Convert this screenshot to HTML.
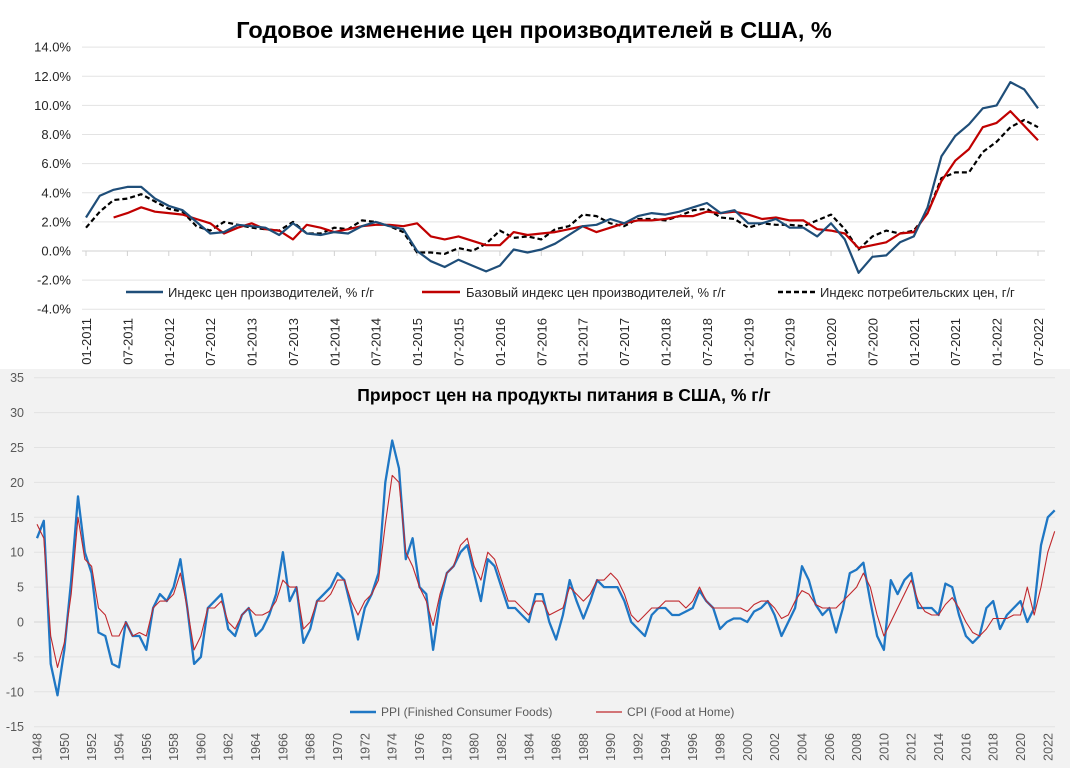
<!DOCTYPE html>
<html><head><meta charset="utf-8">
<style>
html,body{margin:0;padding:0;background:#fff;}
svg{display:block;font-family:"Liberation Sans","DejaVu Sans",sans-serif;}
</style></head>
<body>
<svg id="c" width="1074" height="768" viewBox="0 0 1074 768">
<rect x="0" y="0" width="1074" height="369" fill="#ffffff"/>
<rect x="0" y="369" width="1070" height="399" fill="#f2f2f2"/>
<text x="534" y="38" text-anchor="middle" font-size="23.5" font-weight="bold" fill="#000">Годовое изменение цен производителей в США, %</text>
<text x="564" y="401" text-anchor="middle" font-size="17.5" font-weight="bold" fill="#000">Прирост цен на продукты питания в США, % г/г</text>
<g id="topG"></g>
<g id="botG"></g>
<g>
<line x1="126" y1="292" x2="163" y2="292" stroke="#1f4e79" stroke-width="2.5"/>
<text x="168" y="297" font-size="13" fill="#262626">Индекс цен производителей, % г/г</text>
<line x1="422" y1="292" x2="460" y2="292" stroke="#c00000" stroke-width="2.5"/>
<text x="466" y="297" font-size="13" fill="#262626">Базовый индекс цен производителей, % г/г</text>
<line x1="778" y1="292" x2="815" y2="292" stroke="#000" stroke-width="2.5" stroke-dasharray="5,3"/>
<text x="820" y="297" font-size="13" fill="#262626">Индекс потребительских цен, г/г</text>
</g>
<g>
<line x1="350" y1="712" x2="376" y2="712" stroke="#1f77c4" stroke-width="2.5"/>
<text x="381" y="716" font-size="12" fill="#595959">PPI (Finished Consumer Foods)</text>
<line x1="596" y1="712" x2="622" y2="712" stroke="#c0282d" stroke-width="1.2"/>
<text x="627" y="716" font-size="12" fill="#595959">CPI (Food at Home)</text>
</g>
</svg>
<script>
// ---------- top chart data (bimonthly, Jan 2011 .. Jul 2022) ----------
const topYTicks = [14,12,10,8,6,4,2,0,-2,-4];
const topXLabels = ["01-2011","07-2011","01-2012","07-2012","01-2013","07-2013","01-2014","07-2014","01-2015","07-2015","01-2016","07-2016","01-2017","07-2017","01-2018","07-2018","01-2019","07-2019","01-2020","07-2020","01-2021","07-2021","01-2022","07-2022"];
const ppiValues = [2.3,3.8,4.2,4.4,4.4,3.6, 3.1,2.8,2.0,1.2,1.3,1.8, 1.7,1.6,1.1,1.9,1.2,1.1, 1.3,1.2,1.7,2.0,1.7,1.5, 0.0,-0.7,-1.1,-0.6,-1.0,-1.4, -1.0,0.1,-0.1,0.1,0.5,1.1, 1.7,1.8,2.2,1.9,2.4,2.6, 2.5,2.7,3.0,3.3,2.6,2.8, 1.9,1.9,2.2,1.6,1.6,1.0, 1.9,0.8,-1.5,-0.4,-0.3,0.6, 1.0,3.0,6.5,7.9,8.7,9.8, 10.0,11.6,11.1,9.8];
const corePpiValues = [null,null,2.3,2.6,3.0,2.7, 2.6,2.5,2.2,1.9,1.2,1.6, 1.9,1.5,1.4,0.8,1.8,1.6, 1.3,1.5,1.7,1.8,1.8,1.7, 1.9,1.0,0.8,1.0,0.7,0.4, 0.4,1.3,1.1,1.2,1.3,1.5, 1.7,1.3,1.6,1.9,2.1,2.1, 2.2,2.4,2.4,2.7,2.6,2.7, 2.5,2.2,2.3,2.1,2.1,1.5, 1.4,1.2,0.2,0.4,0.6,1.2, 1.3,2.6,4.8,6.2,7.0,8.5, 8.8,9.6,8.6,7.6];
const cpiValues = [1.6,2.7,3.5,3.6,3.9,3.4, 2.9,2.7,1.7,1.4,2.0,1.8, 1.6,1.5,1.4,2.0,1.2,1.2, 1.6,1.5,2.1,2.0,1.7,1.3, -0.1,-0.1,-0.2,0.2,0.0,0.5, 1.4,0.9,1.0,0.8,1.5,1.7, 2.5,2.4,1.9,1.7,2.2,2.2, 2.1,2.4,2.8,2.9,2.3,2.2, 1.6,1.9,1.8,1.8,1.7,2.1, 2.5,1.5,0.1,1.0,1.4,1.2, 1.4,2.6,5.0,5.4,5.4,6.8, 7.5,8.5,9.0,8.5];

// ---------- bottom chart data (half-yearly, 1948.0 .. 2022.5) ----------
const botYTicks = [35,30,25,20,15,10,5,0,-5,-10,-15];
const botXLabels = ["1948","1950","1952","1954","1956","1958","1960","1962","1964","1966","1968","1970","1972","1974","1976","1978","1980","1982","1984","1986","1988","1990","1992","1994","1996","1998","2000","2002","2004","2006","2008","2010","2012","2014","2016","2018","2020","2022"];
const foodPpiValues = [12,14.5,-6,-10.5,-4,6,18,10,7,-1.5,-2,-6,-6.5,0,-2,-2,-4,2,4,3,5,9,2,-6,-5,2,3,4,-1,-2,1,2,-2,-1,1,4,10,3,5,-3,-1,3,4,5,7,6,2,-2.5,2,4,7,20,26,22,9,12,5,4,-4,3,7,8,10,11,7,3,9,8,5,2,2,1,0,4,4,0,-2.5,1,6,3,0.5,3,6,5,5,5,3,0,-1,-2,1,2,2,1,1,1.5,2,4.5,3,2,-1,0,0.5,0.5,0,1.5,2,3,1,-2,0,2,8,6,2.5,1,2,-1.5,2,7,7.5,8.5,3,-2,-4,6,4,6,7,2,2,2,1,5.5,5,1,-2,-3,-2,2,3,-1,1,2,3,0,2,11,15,16];
const foodCpiValues = [14,12,-2,-6.5,-3,4,15,9,8,2,1,-2,-2,0,-2,-1.5,-2,2,3,3,4,7,2,-4,-2,2,2,3,0,-1,1,2,1,1,1.5,3,6,5,5,-1,0,3,3,4,6,6,3,1,3,4,6,14,21,20,10,8,5,3,-0.5,4,7,8,11,12,8,6,10,9,6,3,3,2,1,3,3,1,1.5,2,5,4,3,4,6,6,7,6,4,1,0,1,2,2,3,3,3,2,3,5,3,2,2,2,2,2,1.5,2.5,3,3,2,0.5,1,3,4.5,4,2.5,2,2,2,3,4,5,7,5,1,-2,0,2,4,6,3,1.5,1,1,2.5,3.5,2,0,-1.5,-2,-1,0.5,0.5,0.5,1,1,5,1,5,10,13];

const NS="http://www.w3.org/2000/svg";
function mk(tag,attrs,parent){const e=document.createElementNS(NS,tag);for(const k in attrs)e.setAttribute(k,attrs[k]);parent.appendChild(e);return e;}

// ---- top axes ----
const topG=document.getElementById('topG');
const tX0=86, tX1=1038, tMonths=138;
const tx=m=>tX0+(tX1-tX0)*m/tMonths;
const ty=v=>251-v*14.56;
topYTicks.forEach(v=>{
  const g=mk('line',{x1:82,x2:1045,y1:ty(v),y2:ty(v),stroke:v===0?'#d0d0d0':'#e3e3e3','stroke-width':1},topG);
  
  
  const t=mk('text',{x:71,y:ty(v)+4.5,'text-anchor':'end','font-size':13,fill:'#262626'},topG);
  t.textContent=v.toFixed(1)+'%';
  
  
});
topXLabels.forEach((lab,i)=>{
  const x=tx(i*6);
  const tk=mk('line',{x1:x,x2:x,y1:251,y2:256,stroke:'#d0d0d0'},topG);
  
  
  const t=mk('text',{x:0,y:0,'text-anchor':'end','font-size':13,fill:'#262626',transform:`translate(${x+5},318) rotate(-90)`},topG);
  t.textContent=lab;
  
  
});
function topLine(vals,stroke,dash,name){
  let d='';let pen=false;
  vals.forEach((v,i)=>{if(v===null){pen=false;return;}d+=(pen?'L':'M')+tx(i*2).toFixed(1)+','+ty(v).toFixed(1);pen=true;});
  const p=mk('path',{d:d,fill:'none',stroke:stroke,'stroke-width':2.2,'stroke-linejoin':'round'},topG);
  if(dash)p.setAttribute('stroke-dasharray',dash);
  
  
}
topLine(cpiValues,'#000','5,3','cpi-line');
topLine(corePpiValues,'#c00000','','core-ppi-line');
topLine(ppiValues,'#1f4e79','','ppi-line');

// ---- bottom axes ----
const botG=document.getElementById('botG');
const bx=y=>37+(y-1948)*13.66;
const by=v=>622-v*6.98;
botYTicks.forEach(v=>{
  const g=mk('line',{x1:34,x2:1055,y1:by(v),y2:by(v),stroke:v===0?'#d4d4d4':'#e2e2e2','stroke-width':1},botG);
  
  
  const t=mk('text',{x:24,y:by(v)+4.5,'text-anchor':'end','font-size':12.5,fill:'#595959'},botG);
  t.textContent=v;
  
  
});
botXLabels.forEach(lab=>{
  const x=bx(+lab);
  const t=mk('text',{x:0,y:0,'text-anchor':'end','font-size':12.5,fill:'#595959',transform:`translate(${x+4.5},733) rotate(-90)`},botG);
  t.textContent=lab;
  
  
});
function botLine(vals,stroke,w,name){
  let d='';
  vals.forEach((v,i)=>{d+=(i?'L':'M')+bx(1948+i*0.5).toFixed(1)+','+by(v).toFixed(1);});
  const p=mk('path',{d:d,fill:'none',stroke:stroke,'stroke-width':w,'stroke-linejoin':'round'},botG);
  
  
}
botLine(foodPpiValues,'#1f77c4',2.3,'food-ppi-line');
botLine(foodCpiValues,'#c0282d',1.1,'food-cpi-line');
</script>
</body></html>
